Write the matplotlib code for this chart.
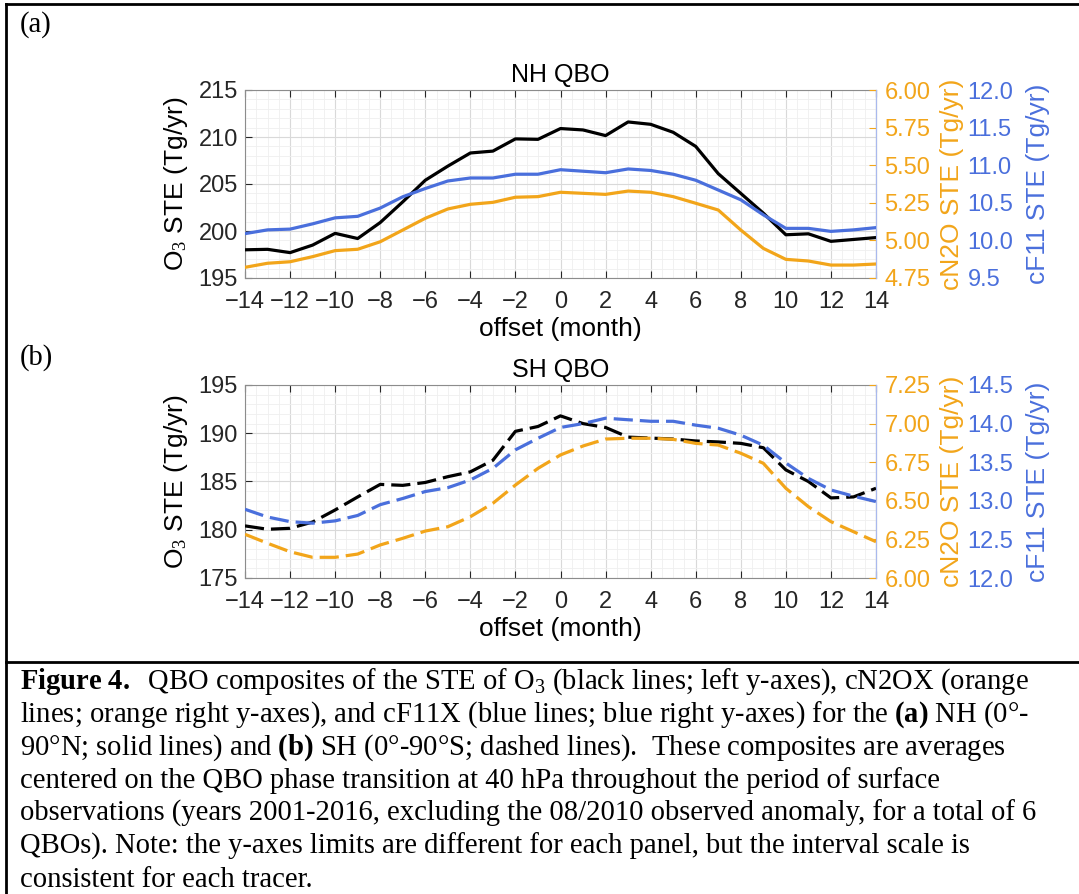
import numpy as np
import matplotlib.pyplot as plt
from matplotlib.lines import Line2D
from matplotlib.ticker import MultipleLocator

plt.rcParams['font.family'] = ['Liberation Sans', 'DejaVu Sans']
plt.rcParams['mathtext.fontset'] = 'custom'
plt.rcParams['mathtext.rm'] = 'Liberation Serif'
plt.rcParams['mathtext.bf'] = 'Liberation Serif:bold'
plt.rcParams['mathtext.it'] = 'Liberation Serif:italic'

# offset (month)
offset = np.arange(-14, 15)

# NH QBO (solid)
nh_o3 = [198.0, 198.05, 197.7, 198.5, 199.75, 199.2, 200.9, 203.1, 205.4, 206.9,
         208.3, 208.5, 209.8, 209.75, 210.9, 210.75, 210.15, 211.6, 211.35, 210.5,
         209.0, 206.1, 204.0, 201.9, 199.6, 199.7, 198.9, 199.1, 199.3]
nh_n2o = [4.821, 4.848, 4.858, 4.892, 4.932, 4.941, 4.991, 5.069, 5.147, 5.209,
          5.240, 5.253, 5.287, 5.291, 5.320, 5.313, 5.306, 5.328, 5.320, 5.291,
          5.247, 5.202, 5.069, 4.947, 4.874, 4.863, 4.836, 4.836, 4.843]
nh_f11 = [10.09, 10.14, 10.15, 10.22, 10.30, 10.32, 10.43, 10.58, 10.69, 10.79,
          10.83, 10.83, 10.88, 10.88, 10.94, 10.92, 10.90, 10.95, 10.93, 10.88,
          10.80, 10.67, 10.54, 10.34, 10.16, 10.16, 10.12, 10.14, 10.17]

# SH QBO (dashed)
sh_o3 = [180.4, 180.05, 180.15, 180.8, 182.05, 183.4, 184.7, 184.6, 184.9, 185.5,
         186.0, 187.2, 190.2, 190.7, 191.8, 191.0, 190.6, 189.6, 189.5, 189.4,
         189.2, 189.1, 188.95, 188.5, 186.2, 185.0, 183.3, 183.4, 184.3]
sh_n2o = [6.283, 6.225, 6.170, 6.134, 6.134, 6.155, 6.214, 6.257, 6.304, 6.332,
          6.397, 6.484, 6.602, 6.710, 6.797, 6.855, 6.900, 6.905, 6.905, 6.898,
          6.872, 6.861, 6.808, 6.743, 6.581, 6.462, 6.365, 6.300, 6.235]
sh_f11 = [12.89, 12.79, 12.73, 12.71, 12.74, 12.81, 12.95, 13.03, 13.12, 13.17,
          13.27, 13.42, 13.66, 13.81, 13.95, 14.00, 14.07, 14.05, 14.03, 14.03,
          13.98, 13.94, 13.85, 13.72, 13.49, 13.29, 13.14, 13.06, 12.99]

ORANGE = '#f2a51a'
BLUE = '#4a6fdc'
TICK_FS = 17
LAB_FS = 19

W, H = 1079, 894
fig = plt.figure(figsize=(W / 100, H / 100), dpi=100)


def panel(rect, title, o3, n2o, f11, o3_lim, n2o_lim, f11_lim, ls):
    ax = fig.add_axes(rect)
    ax.plot(offset, o3, color='black', lw=2.3, ls=ls, zorder=5)
    ax.set_xlim(-14, 14)
    ax.set_ylim(*o3_lim)
    ax.set_xticks(np.arange(-14, 15, 2))
    ax.set_yticks(np.arange(o3_lim[0], o3_lim[1] + 1, 5))
    ax.xaxis.set_minor_locator(MultipleLocator(0.5))
    ax.yaxis.set_minor_locator(MultipleLocator(1))
    ax.grid(which='major', color='#d9d9d9', lw=0.8)
    ax.grid(which='minor', color='#efefef', lw=0.6)
    ax.set_axisbelow(True)
    ax.tick_params(which='both', direction='in', top=True, right=False,
                   labelsize=TICK_FS, colors='#262626')
    ax.tick_params(axis='x', pad=9)
    ax.tick_params(axis='y', pad=5)
    ax.tick_params(which='major', length=5)
    ax.tick_params(which='minor', length=0)
    for s in ax.spines.values():
        s.set_color('#8c8c8c')
    ax.set_xlabel('offset (month)', fontsize=LAB_FS, labelpad=3)
    ax.set_ylabel(r'O$_3$ STE (Tg/yr)', fontsize=LAB_FS, labelpad=6)
    ax.set_title(title, fontsize=18, pad=6)

    # orange axis on the right spine
    axo = ax.twinx()
    axo.plot(offset, n2o, color=ORANGE, lw=2.3, ls=ls)
    axo.set_ylim(*n2o_lim)
    axo.set_yticks(np.linspace(n2o_lim[0], n2o_lim[1], 6))
    axo.yaxis.set_major_formatter(plt.FormatStrFormatter('%.2f'))
    axo.tick_params(direction='in', length=5, labelsize=TICK_FS,
                    colors=ORANGE, pad=6)
    axo.spines['right'].set_color('#a9b9ee')
    axo.set_ylabel('cN2O STE (Tg/yr)', fontsize=LAB_FS, color=ORANGE,
                   labelpad=7)

    # blue axis further right, no spine
    axb = ax.twinx()
    axb.plot(offset, f11, color=BLUE, lw=2.3, ls=ls)
    axb.set_ylim(*f11_lim)
    axb.set_yticks(np.linspace(f11_lim[0], f11_lim[1], 6))
    axb.yaxis.set_major_formatter(plt.FormatStrFormatter('%.1f'))
    axb.spines['right'].set_position(('outward', 61))
    axb.spines['right'].set_visible(False)
    axb.tick_params(length=0, labelsize=TICK_FS, colors=BLUE, pad=5)
    axb.set_ylabel('cF11 STE (Tg/yr)', fontsize=LAB_FS, color=BLUE,
                   labelpad=9)
    for a in (axo, axb):
        a.spines['left'].set_visible(False)
        a.spines['top'].set_visible(False)
        a.spines['bottom'].set_visible(False)
    return ax


left, right = 245, 876
panel([left / W, 1 - 278 / H, (right - left) / W, 188 / H], 'NH QBO',
      nh_o3, nh_n2o, nh_f11, (195, 215), (4.75, 6.00), (9.5, 12.0), '-')
panel([left / W, 1 - 578 / H, (right - left) / W, 193 / H], 'SH QBO',
      sh_o3, sh_n2o, sh_f11, (175, 195), (6.00, 7.25), (12.0, 14.5),
      (0, (6, 2.2)))

# frame and separator
fig.add_artist(Line2D([6 / W, 6 / W], [0, 1 - 4 / H], color='black', lw=2,
                      transform=fig.transFigure))
fig.add_artist(Line2D([6 / W, 1], [1 - 4 / H, 1 - 4 / H], color='black', lw=2,
                      transform=fig.transFigure))
fig.add_artist(Line2D([6 / W, 1], [1 - 662 / H, 1 - 662 / H], color='black',
                      lw=2, transform=fig.transFigure))

serif = dict(family='Liberation Serif', fontsize=20.6, color='black')
fig.text(20 / W, 1 - 25 / H, '(a)', va='center', ha='left', **serif)
fig.text(20 / W, 1 - 358 / H, '(b)', va='center', ha='left', **serif)

caption = [
    r'$\mathbf{Figure\ 4.}$  QBO composites of the STE of O$_3$ (black lines; left y-axes), cN2OX (orange',
    r'lines; orange right y-axes), and cF11X (blue lines; blue right y-axes) for the $\mathbf{(a)}$ NH (0°-',
    r'90°N; solid lines) and $\mathbf{(b)}$ SH (0°-90°S; dashed lines).  These composites are averages',
    'centered on the QBO phase transition at 40 hPa throughout the period of surface',
    'observations (years 2001-2016, excluding the 08/2010 observed anomaly, for a total of 6',
    'QBOs). Note: the y-axes limits are different for each panel, but the interval scale is',
    'consistent for each tracer.',
]
for i, line in enumerate(caption):
    fig.text(20 / W, 1 - (689 + 33 * i) / H, line, va='baseline', ha='left',
             **serif)

fig.savefig('out.png', dpi=100)
